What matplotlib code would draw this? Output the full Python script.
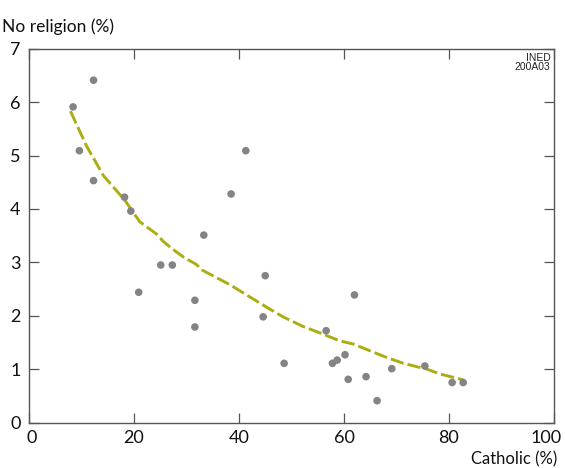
import matplotlib
matplotlib.use("Agg")
import matplotlib.pyplot as plt
from matplotlib.transforms import ScaledTranslation

# regions: share catholic vs share with no religion
catholic = [8.4, 12.3, 9.6, 12.3, 18.2, 19.4, 20.9, 25.1, 27.3, 31.6, 31.6,
            33.3, 38.5, 41.3, 45.0, 44.6, 48.6, 56.6, 57.8, 58.7, 60.2, 60.8,
            62.0, 64.2, 66.3, 69.1, 75.4, 80.6, 82.7]
no_religion = [5.91, 6.41, 5.09, 4.53, 4.22, 3.96, 2.44, 2.95, 2.95, 2.29, 1.79,
               3.51, 4.28, 5.09, 2.75, 1.98, 1.11, 1.72, 1.11, 1.17, 1.27, 0.81,
               2.39, 0.86, 0.41, 1.01, 1.06, 0.75, 0.75]

# smoothed trend
trend_x = [7.9, 11.0, 14.2, 18.2, 21.1, 24.3, 25.6, 27.2, 29.4, 31.9, 32.9,
           38.3, 45.6, 48.4, 52.2, 55.4, 59.2, 61.8, 64.3, 68.1, 71.3, 75.8,
           78.3, 82.7]
trend_y = [5.83, 5.17, 4.62, 4.17, 3.76, 3.53, 3.39, 3.26, 3.10, 2.96, 2.86,
           2.58, 2.14, 1.98, 1.80, 1.68, 1.53, 1.47, 1.37, 1.22, 1.11, 1.00,
           0.91, 0.80]

plt.rcParams["font.family"] = ["Lato", "DejaVu Sans"]

fig = plt.figure(figsize=(5.65, 4.68), dpi=100)
ax = fig.add_axes([0.0513, 0.097, 0.9292, 0.799])

ax.plot(trend_x, trend_y, color="#abad10", lw=2.1, dashes=(4.6, 1.4), zorder=2)
ax.scatter(catholic, no_religion, s=30, color="#838388", edgecolors="none", zorder=3)

ax.set_xlim(0, 100)
ax.set_ylim(0, 7)
ax.set_xticks([0, 20, 40, 60, 80, 100])
ax.set_yticks(range(0, 8))

for s in ax.spines.values():
    s.set_color("#555555")
    s.set_linewidth(1.0)

ax.tick_params(direction="in", length=7, width=0.9, color="#555555",
               labelsize=13, labelcolor="#111111", top=True, right=True)
ax.tick_params(axis="x", pad=5)
ax.tick_params(axis="y", pad=6)

# nudge the outer x labels the way the original does
lbls = ax.get_xticklabels()
lbls[0].set_transform(lbls[0].get_transform() + ScaledTranslation(3 / 100, 0, fig.dpi_scale_trans))
lbls[-1].set_transform(lbls[-1].get_transform() + ScaledTranslation(-8 / 100, 0, fig.dpi_scale_trans))

ax.text(-0.052, 1.037, "No religion (%)", transform=ax.transAxes, fontsize=12.5,
        ha="left", va="bottom", color="#111111")
ax.text(1.006, -0.078, "Catholic (%)", transform=ax.transAxes, fontsize=12,
        ha="right", va="top", color="#111111")
ax.text(0.993, 0.988, "INED\n200A03", transform=ax.transAxes, fontsize=7.5,
        ha="right", va="top", family="Liberation Sans", linespacing=0.9,
        color="#222222", multialignment="right")

fig.savefig("out.png", dpi=100)
